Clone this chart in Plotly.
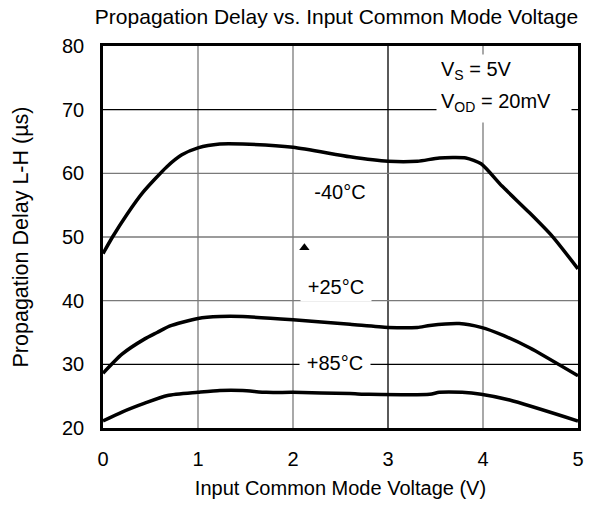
import plotly.graph_objects as go

# Data
v_m40 = [0.0, 0.1, 0.25, 0.42, 0.67, 0.83, 1.0, 1.23, 1.47, 2.0, 2.6, 3.0, 3.31, 3.54, 3.82, 3.98, 4.2, 4.49, 4.73, 5.0]
d_m40 = [47.4, 50.0, 53.5, 57.0, 61.0, 62.9, 64.0, 64.6, 64.6, 64.1, 62.6, 61.9, 61.9, 62.4, 62.4, 61.5, 58.0, 53.8, 50.1, 45.0]

v_25 = [0.0, 0.2, 0.44, 0.57, 0.7, 1.0, 1.23, 1.47, 2.0, 2.6, 3.0, 3.31, 3.44, 3.75, 3.98, 4.22, 4.49, 5.0]
d_25 = [28.6, 31.6, 34.0, 35.0, 36.0, 37.2, 37.5, 37.5, 37.0, 36.3, 35.8, 35.8, 36.1, 36.4, 35.8, 34.5, 32.6, 28.2]

v_85 = [0.0, 0.2, 0.44, 0.68, 1.0, 1.23, 1.47, 1.72, 2.0, 2.6, 2.8, 3.44, 3.54, 3.78, 3.98, 4.28, 5.0]
d_85 = [21.1, 22.5, 23.9, 25.1, 25.6, 25.9, 25.9, 25.6, 25.6, 25.4, 25.3, 25.3, 25.6, 25.6, 25.3, 24.4, 21.1]

marker_x = [2.12]
marker_y = [48.3]

x_ticks = [0, 1, 2, 3, 4, 5]
y_ticks = [20, 30, 40, 50, 60, 70, 80]

FONT = "Liberation Sans, Arial, sans-serif"
FS = 20

fig = go.Figure()
line = dict(color="black", width=3.5, shape="spline", smoothing=0.6)
for xs, ys, nm in [(v_m40, d_m40, "-40°C"), (v_25, d_25, "+25°C"), (v_85, d_85, "+85°C")]:
    fig.add_trace(go.Scatter(x=xs, y=ys, mode="lines", line=line, name=nm, showlegend=False,
                             hoverinfo="skip"))
fig.add_trace(go.Scatter(x=marker_x, y=marker_y, mode="markers",
                         marker=dict(symbol="triangle-up", size=9, color="black"),
                         showlegend=False, hoverinfo="skip"))

# Grid lines (mixed black / gray like the reference)
grid_x = {1: "#7a7a7a", 2: "#7a7a7a", 3: "#000000", 4: "#7a7a7a"}
grid_y = {30: "#000000", 40: "#7a7a7a", 50: "#7a7a7a", 60: "#7a7a7a", 70: "#000000"}
for gx, col in grid_x.items():
    fig.add_shape(type="line", xref="x", yref="paper", x0=gx, x1=gx, y0=0, y1=1,
                  line=dict(color=col, width=1.3), layer="below")
for gy, col in grid_y.items():
    fig.add_shape(type="line", xref="paper", yref="y", x0=0, x1=1, y0=gy, y1=gy,
                  line=dict(color=col, width=1.3), layer="below")

lab_font = dict(family=FONT, size=FS, color="black")
for txt, x, y in [("-40°C", 2.49, 57.1), ("+25°C", 2.45, 42.2), ("+85°C", 2.44, 30.2)]:
    fig.add_annotation(x=x, y=y, xref="x", yref="y", text=txt, showarrow=False,
                       font=lab_font, bgcolor="white", width=70, height=28, borderpad=0)

fig.add_annotation(x=4.221, y=76.23, xref="x", yref="y", text="V<sub>S</sub> = 5V",
                   showarrow=False, font=lab_font, bgcolor="white", align="left",
                   width=126, height=23, borderpad=4)
fig.add_annotation(x=4.221, y=70.96, xref="x", yref="y", text="V<sub>OD</sub> = 20mV",
                   showarrow=False, font=lab_font, bgcolor="white", align="left",
                   valign="top", width=126, height=28, borderpad=4)

fig.update_layout(
    width=596, height=506,
    margin=dict(l=95, r=26, t=38, b=86),
    paper_bgcolor="white", plot_bgcolor="white",
    font=dict(family=FONT, size=FS, color="black"),
    title=dict(text="Propagation Delay vs. Input Common Mode Voltage",
               x=(336.5 - 8) / 596, xanchor="center", y=1 - 9 / 506, yanchor="middle",
               font=dict(family=FONT, size=21)),
)
fig.update_xaxes(range=[0, 5], tickvals=x_ticks, showgrid=False, zeroline=False,
                 showline=True, linecolor="black", linewidth=2.5, mirror=True,
                 ticks="", ticklabelstandoff=11,
                 title=dict(text="Input Common Mode Voltage (V)", standoff=13,
                            font=dict(family=FONT, size=FS)))
fig.update_yaxes(range=[20, 80], tickvals=y_ticks, showgrid=False, zeroline=False,
                 showline=True, linecolor="black", linewidth=2.5, mirror=True,
                 ticks="", ticklabelstandoff=12,
                 title=dict(text="Propagation Delay L-H (µs)", standoff=28,
                            font=dict(family=FONT, size=21.5)))

fig.write_html("out.html")
